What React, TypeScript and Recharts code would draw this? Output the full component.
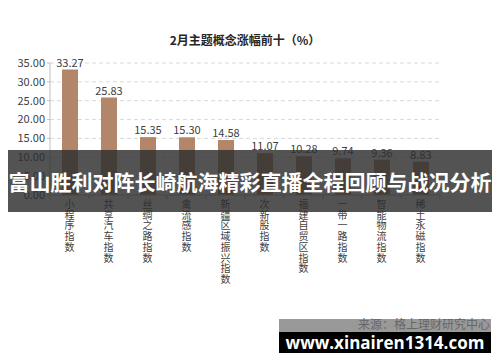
import React from 'react';
import { BarChart, Bar, XAxis, YAxis, CartesianGrid, LabelList } from 'recharts';

const categories = [
  '小程序指数',
  '共享汽车指数',
  '丝绸之路指数',
  '禽流感指数',
  '新疆区域振兴指数',
  '次新股指数',
  '福建自贸区指数',
  '一带一路指数',
  '智能物流指数',
  '稀土永磁指数',
];
const gains = [33.27, 25.83, 15.35, 15.3, 14.58, 11.07, 10.28, 9.74, 9.36, 8.83];
const yTicks = [0, 5, 10, 15, 20, 25, 30, 35];

const chartTitle = '2月主题概念涨幅前十（%）';
const sourceText = '来源：格上理财研究中心';
const bannerText = '富山胜利对阵长崎航海精彩直播全程回顾与战况分析';
const siteText = 'www.xinairen1314.com';

const data = categories.map((name, i) => ({ name, value: gains[i] }));

const FONT = '"Noto Sans CJK SC", "Noto Sans", sans-serif';

// vertical category label, one char per line, plus boundary tick marks
const VerticalTick = (props: any) => {
  const { x, y, payload } = props;
  const chars: string[] = Array.from(payload.value);
  const half = 19.5;
  return (
    <g>
      <line x1={x - half} y1={y - 8} x2={x - half} y2={y - 4} stroke="#bfbfbf" />
      <line x1={x + half} y1={y - 8} x2={x + half} y2={y - 4} stroke="#bfbfbf" />
      <text x={x} y={y + 5} textAnchor="middle" fill="#404040" fontSize={10} fontFamily={FONT}>
        {chars.map((c, i) => (
          <tspan key={i} x={x} dy={i === 0 ? 0 : 10.7}>
            {c}
          </tspan>
        ))}
      </text>
    </g>
  );
};

const App: React.FC = () => {
  return (
    <div style={{ position: 'absolute', left: 0, top: 0, width: 500, height: 362, background: '#fff', overflow: 'hidden' }}>
      <div
        style={{
          position: 'absolute',
          left: 0,
          top: 31,
          width: 490,
          textAlign: 'center',
          fontFamily: FONT,
          fontWeight: 700,
          fontSize: 12,
          color: '#262626',
        }}
      >
        {chartTitle}
      </div>
      <BarChart
        width={500}
        height={362}
        data={data}
        margin={{ top: 63, right: 60, bottom: 67, left: 0 }}
        barSize={16}
      >
        <CartesianGrid vertical={false} stroke="#d9d9d9" strokeDasharray="4 3" />
        <XAxis
          dataKey="name"
          interval={0}
          height={100}
          tickLine={false}
          axisLine={{ stroke: '#bfbfbf' }}
          tick={<VerticalTick />}
        />
        <YAxis
          width={50}
          domain={[0, 35]}
          ticks={yTicks}
          interval={0}
          tickFormatter={(v: number) => v.toFixed(2)}
          axisLine={{ stroke: '#bfbfbf' }}
          tickLine={{ stroke: '#bfbfbf' }}
          tickSize={3}
          tick={{ fill: '#404040', fontSize: 11, fontFamily: FONT }}
        />
        <Bar dataKey="value" fill="#b3866a" isAnimationActive={false}>
          <LabelList
            dataKey="value"
            position="top"
            offset={3}
            formatter={(v: any) => Number(v).toFixed(2)}
            style={{ fill: '#404040', fontSize: 11, fontFamily: FONT }}
          />
        </Bar>
      </BarChart>
      <div
        style={{
          position: 'absolute',
          right: 10,
          top: 315,
          fontFamily: FONT,
          fontSize: 12,
          color: '#555',
        }}
      >
        {sourceText}
      </div>
      <div
        style={{
          position: 'absolute',
          left: 8,
          top: 150,
          width: 484,
          height: 62,
          background: 'rgba(45,45,45,0.82)',
          display: 'flex',
          alignItems: 'center',
          justifyContent: 'center',
          fontFamily: FONT,
          fontWeight: 700,
          fontSize: 21,
          color: '#fff',
          whiteSpace: 'nowrap',
        }}
      >
        {bannerText}
      </div>
      <div
        style={{
          position: 'absolute',
          left: 279,
          top: 319,
          width: 212,
          height: 13,
          background: 'rgba(110,110,110,0.7)',
        }}
      />
      <div
        style={{
          position: 'absolute',
          left: 279,
          top: 332,
          width: 212,
          height: 21,
          background: '#000',
          display: 'flex',
          alignItems: 'center',
          justifyContent: 'center',
          fontFamily: '"Open Sans", sans-serif',
          fontWeight: 700,
          fontSize: 17,
          color: '#fff',
          lineHeight: '21px',
        }}
      >
        {siteText}
      </div>
    </div>
  );
};

export default App;
